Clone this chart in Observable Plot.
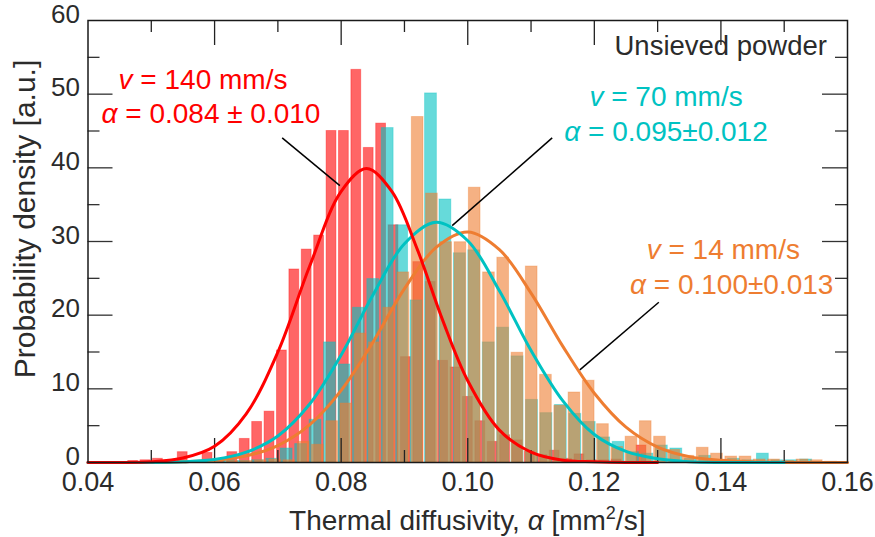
<!DOCTYPE html>
<html><head><meta charset="utf-8">
<script src="https://cdn.jsdelivr.net/npm/d3@7"></script>
<script src="https://cdn.jsdelivr.net/npm/@observablehq/plot@0.6"></script>
<style>body{margin:0;background:#fff} svg{display:block}</style>
</head><body><div id="chart"></div>
<script>
// ---- histogram bins ----
const redStart = 0.04615, redWidth = 0.001959;
const redHeights = [0.2,0.3,0.5,0.1,1.4,0.2,1.3,0.2,1.4,3.2,5.5,6.9,15.2,26.2,28.9,30.8,45.0,45.0,53.3,42.7,46.0,32.2,14.3,27.2,24.5,13.8,12.9,8.9,5.6,2.8,3.7,3.0,1.5,1.0,1.6,0.5,1.1,0.3,0.3,0.4,0.1,2.3];
const cyanStart = 0.05885, cyanWidth = 0.00228;
const cyanHeights = [0.1,0.3,0.2,0.3,0.5,1.9,2.5,5.8,16.3,13.3,21.0,24.9,45.4,32.2,22.0,50.1,35.7,28.4,28.8,16.3,18.3,14.4,8.5,6.7,7.8,6.6,5.5,3.4,2.8,1.4,1.2,2.3,1.9,0.5,0.9,0.3,0.5,0.3,1.2,0.3,0.3,0.4];
const orangeStart = 0.05493, orangeWidth = 0.002252;
const orangeHeights = [0.1,0.2,0.1,0.2,0.2,0.3,0.4,0.3,2.8,2.4,5.6,8.0,17.5,16.3,21.0,25.8,46.9,36.5,29.9,29.9,37.3,25.8,27.8,14.9,26.6,11.9,7.7,9.5,11.1,5.2,2.1,3.5,5.6,3.5,1.7,0.9,2.0,1.2,0.8,0.8,0.4,0.4,0.2,0.4,0.3,0.1];

// ---- fitted curves ----
const redCurveX = [0.040,0.045,0.050,0.055,0.060,0.065,0.070,0.075,0.080,0.084,0.088,0.092,0.096,0.100,0.105,0.110,0.115,0.120,0.125,0.130];
const redCurveY = [0.0,0.0,0.1,0.6,2.2,6.6,15.0,26.6,36.8,39.9,36.8,29.0,19.4,11.1,4.4,1.4,0.3,0.1,0.0,0.0];
const cyanCurveX = [0.040,0.045,0.050,0.055,0.060,0.065,0.070,0.075,0.080,0.085,0.090,0.095,0.100,0.105,0.110,0.115,0.120,0.125,0.130,0.135,0.140,0.145,0.150];
const cyanCurveY = [0.0,0.0,0.0,0.1,0.4,1.4,3.6,7.9,14.6,22.7,29.7,32.6,30.1,23.3,15.2,8.4,3.8,1.5,0.5,0.1,0.0,0.0,0.0];
const orangeCurveX = [0.040,0.045,0.050,0.055,0.060,0.065,0.070,0.075,0.080,0.085,0.090,0.095,0.100,0.105,0.110,0.115,0.120,0.125,0.130,0.135,0.140,0.145,0.150,0.155,0.160];
const orangeCurveY = [0.0,0.0,0.0,0.1,0.3,0.9,2.3,5.1,9.8,16.3,23.6,29.2,31.3,28.9,23.0,15.8,9.4,4.8,2.1,0.8,0.3,0.1,0.0,0.0,0.0];

// ---- axes ----
const xTickLabels = [0.04,0.06,0.08,0.10,0.12,0.14,0.16];
const xMajorTicks = [0.06,0.08,0.10,0.12,0.14];
const xMinorTicks = [0.05,0.07,0.09,0.11,0.13,0.15];
const yTickLabels = [0,10,20,30,40,50,60];
const yMajorTicks = [10,20,30,40,50];
const yMinorTicks = [5,15,25,35,45,55];

// ---- annotations ----
const seriesNames = ["red","cyan","orange"];
const seriesColors = ["#ff0000","#00c2c2","#ee7d31"];
const annoSpeed = ["140","70","14"];
const annoMean = ["0.084","0.095","0.100"];
const annoSd = ["0.010","0.012","0.013"];
const annoSep = [" \u00b1 ","\u00b1","\u00b1"];
const annoLine1X = [0.05825,0.13141,0.14046];
const annoLine1Y = [50.57,48.30,27.50];
const annoLine2X = [0.05951,0.13141,0.14179];
const annoLine2Y = [45.96,43.60,22.80];
const leaderX1 = [0.07068,0.11334,0.13019];
const leaderY1 = [44.06,44.06,21.75];
const leaderX2 = [0.07979,0.09754,0.11771];
const leaderY2 = [37.58,32.16,12.58];
const panelLabel = "Unsieved powder";
const panelLabelPos = [0.15684, 55.2];

function bins(start, w, hs, s){ return hs.map((h,i)=>({x1:start+i*w, x2:start+(i+1)*w, y:h, s})); }
function curve(xs, ys, s){ return xs.map((x,i)=>({x, y:ys[i], s})); }

const W = 875, H = 537, mL = 87.5, mR = 28, mT = 20, mB = 75;
const plotW = W - mL - mR, plotH = H - mT - mB;
const textCol = "#2b2b2b";
const font = "Liberation Sans, Arial, Helvetica, sans-serif";

const barOpts = (c) => ({x1:"x1", x2:"x2", y:"y", fill:c, fillOpacity:0.6, stroke:c, strokeOpacity:0.35, strokeWidth:1, insetLeft:1.3, insetRight:1.3});
const lineOpts = (c) => ({x:"x", y:"y", stroke:c, strokeWidth:3, curve:"catmull-rom"});

const chart = Plot.plot({
  width: W, height: H,
  marginLeft: mL, marginRight: mR, marginTop: mT, marginBottom: mB,
  style: {fontFamily: font, background: "white", overflow: "visible"},
  x: {domain: [0.04, 0.16], axis: null},
  y: {domain: [0, 60], axis: null},
  marks: [
    Plot.rectY(bins(redStart, redWidth, redHeights, "red"), barOpts(seriesColors[0])),
    Plot.rectY(bins(cyanStart, cyanWidth, cyanHeights, "cyan"), barOpts(seriesColors[1])),
    Plot.rectY(bins(orangeStart, orangeWidth, orangeHeights, "orange"), barOpts(seriesColors[2])),
    // inward ticks
    Plot.ruleX(xMajorTicks, {x: d=>d, insetTop: plotH-24, stroke:"#222", strokeWidth:1.3}),
    Plot.ruleX(xMinorTicks, {x: d=>d, insetTop: plotH-12, stroke:"#222", strokeWidth:1.3}),
    Plot.ruleX(xMajorTicks, {x: d=>d, insetBottom: plotH-25, stroke:"#222", strokeWidth:1.3}),
    Plot.ruleX(xMinorTicks, {x: d=>d, insetBottom: plotH-12, stroke:"#222", strokeWidth:1.3}),
    Plot.ruleY(yMajorTicks, {y: d=>d, insetRight: plotW-25, stroke:"#333", strokeWidth:1.3}),
    Plot.ruleY(yMinorTicks, {y: d=>d, insetRight: plotW-12, stroke:"#333", strokeWidth:1.3}),
    Plot.ruleY(yMajorTicks, {y: d=>d, insetLeft: plotW-25, stroke:"#333", strokeWidth:1.3}),
    Plot.ruleY(yMinorTicks, {y: d=>d, insetLeft: plotW-12, stroke:"#333", strokeWidth:1.3}),
    // curves
    Plot.line(curve(orangeCurveX, orangeCurveY, "orange"), lineOpts(seriesColors[2])),
    Plot.line(curve(cyanCurveX, cyanCurveY, "cyan"), lineOpts(seriesColors[1])),
    Plot.line(curve(redCurveX, redCurveY, "red"), lineOpts(seriesColors[0])),
    // leader lines
    Plot.link(seriesNames.map((s,i)=>({s, x1:leaderX1[i], y1:leaderY1[i], x2:leaderX2[i], y2:leaderY2[i]})),
      {x1:"x1", y1:"y1", x2:"x2", y2:"y2", stroke:"#000", strokeWidth:1.5}),
    Plot.frame({stroke:"#1a1a1a", strokeWidth:1.5}),
    // tick labels
    Plot.text(xTickLabels, {x: d=>d, frameAnchor:"bottom", dy:28, text: d=>d.toFixed(2), fontSize:27, fill:textCol}),
    Plot.text(yTickLabels, {y: d=>d, frameAnchor:"left", dx:-8, dy:-6, textAnchor:"end", text: d=>String(d), fontSize:26, fill:textCol})
  ]
});

document.getElementById("chart").appendChild(chart);
const svg = d3.select(chart);
const sx = chart.scale("x"), sy = chart.scale("y");

// annotations
seriesNames.forEach((s,i)=>{
  const t1 = svg.append("text").attr("x", sx.apply(annoLine1X[i])).attr("y", sy.apply(annoLine1Y[i]))
    .attr("text-anchor","middle").attr("font-size",28).attr("fill",seriesColors[i]).attr("font-family",font);
  t1.append("tspan").attr("font-style","italic").text("v");
  t1.append("tspan").text(" = " + annoSpeed[i] + " mm/s");
  const t2 = svg.append("text").attr("x", sx.apply(annoLine2X[i])).attr("y", sy.apply(annoLine2Y[i]))
    .attr("text-anchor","middle").attr("font-size",28).attr("fill",seriesColors[i]).attr("font-family",font);
  t2.append("tspan").attr("font-style","italic").text("\u03b1");
  t2.append("tspan").text(" = " + annoMean[i] + annoSep[i] + annoSd[i]);
});

svg.append("text").attr("x", sx.apply(panelLabelPos[0])).attr("y", sy.apply(panelLabelPos[1]))
  .attr("text-anchor","end").attr("font-size",27.5).attr("fill",textCol).attr("font-family",font).text(panelLabel);

// axis titles
const xt = svg.append("text").attr("x", mL + plotW/2).attr("y", 530).attr("text-anchor","middle")
  .attr("font-size",28).attr("fill",textCol).attr("font-family",font);
xt.append("tspan").text("Thermal diffusivity, ");
xt.append("tspan").attr("font-style","italic").text("\u03b1");
xt.append("tspan").text(" [mm");
xt.append("tspan").attr("font-size",18).attr("dy",-11).text("2");
xt.append("tspan").attr("dy",11).text("/s]");

svg.append("text").attr("transform","translate(35,219) rotate(-90)").attr("text-anchor","middle")
  .attr("font-size",30).attr("fill",textCol).attr("font-family",font).text("Probability density [a.u.]");
</script></body></html>
